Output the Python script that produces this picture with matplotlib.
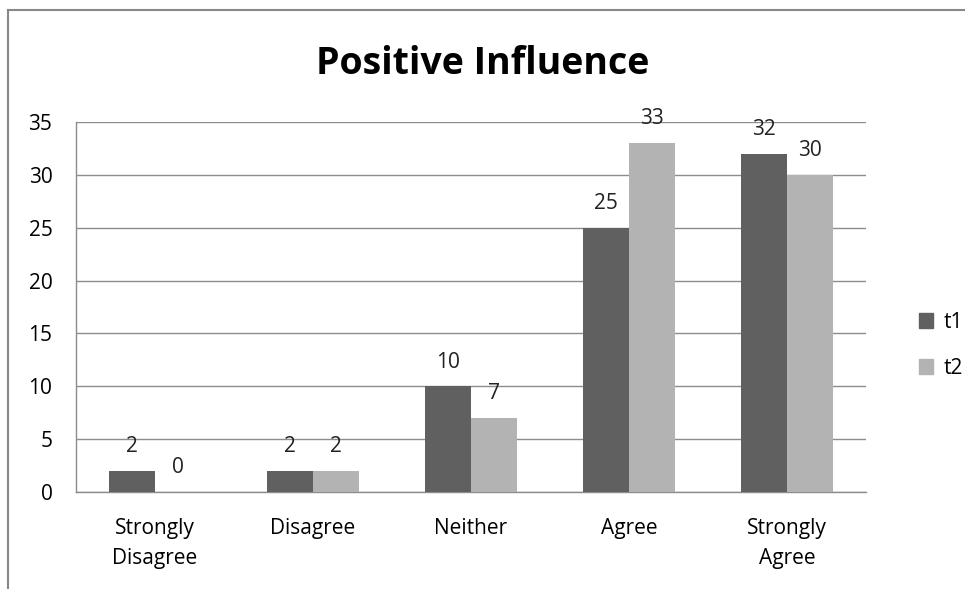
import numpy as np
import matplotlib.pyplot as plt
from matplotlib.lines import Line2D
from matplotlib.patches import Patch

categories = ["Strongly\nDisagree", "Disagree", "Neither", "Agree", "Strongly\nAgree"]
t1 = [2, 2, 10, 25, 32]
t2 = [0, 2, 7, 33, 30]
yticks = [0, 5, 10, 15, 20, 25, 30, 35]

plt.rcParams['font.family'] = ['Open Sans', 'DejaVu Sans']

fig = plt.figure(figsize=(9.65, 5.89), dpi=100)
ax = fig.add_axes([76 / 965, 1 - 492 / 589, 790 / 965, 370 / 589])

x = np.arange(len(categories))
w = 0.29
b1 = ax.bar(x - w / 2, t1, w, color="#606060", label="t1", zorder=3)
b2 = ax.bar(x + w / 2, t2, w, color="#b3b3b3", label="t2", zorder=3)

for bars in (b1, b2):
    for rect in bars:
        h = rect.get_height()
        ax.text(rect.get_x() + rect.get_width() / 2, h + 1.3, f"{h:g}",
                ha="center", va="bottom", fontsize=15, color="#222222")

ax.set_xlim(-0.5, len(categories) - 0.5)
ax.set_ylim(0, 35)
ax.set_yticks(yticks)
ax.set_xticks(x)
ax.set_xticklabels(categories, fontsize=15, linespacing=1.55)
ax.tick_params(axis="y", labelsize=15, length=0, pad=17)
ax.tick_params(axis="x", length=0, pad=19)
ax.grid(axis="y", color="#8c8c8c", linewidth=1, zorder=0)
for s in ("top", "right"):
    ax.spines[s].set_visible(False)
for s in ("left", "bottom"):
    ax.spines[s].set_color("#8c8c8c")
    ax.spines[s].set_linewidth(1)

fig.text(0.5, 1 - 64 / 589, "Positive Influence", ha="center", va="center",
         fontsize=27, fontweight="bold")

handles = [Patch(color="#606060"), Patch(color="#b3b3b3")]
fig.legend(handles, ["t1", "t2"], loc="center left",
           bbox_to_anchor=(900 / 965, 1 - 345 / 589), frameon=False,
           fontsize=15, handlelength=0.7, handleheight=0.7,
           labelspacing=1.2, handletextpad=0.5)

# outer chart border on top and left
fig.add_artist(Line2D([8 / 965, 1], [1 - 10 / 589, 1 - 10 / 589], color="#888888", linewidth=1.5))
fig.add_artist(Line2D([8 / 965, 8 / 965], [0, 1 - 10 / 589], color="#888888", linewidth=1.5))

fig.savefig("out.png", dpi=100)
